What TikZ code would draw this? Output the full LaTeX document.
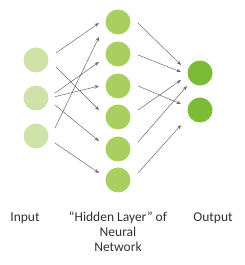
\documentclass[tikz,border=0pt]{standalone}
\usepackage{fontspec}
\setmainfont{Carlito}
\usetikzlibrary{calc,arrows.meta}
\definecolor{incol}{HTML}{CFE3A8}
\definecolor{hidcol}{HTML}{A8CF60}
\definecolor{outcol}{HTML}{7CBB36}
\definecolor{arrcol}{HTML}{6A6A6A}
\begin{document}
\begin{tikzpicture}[x=1pt,y=1pt,
  neuron/.style={circle,minimum size=25pt,inner sep=0pt,draw=none},
  innode/.style={neuron,fill=incol},
  hidnode/.style={neuron,fill=hidcol},
  outnode/.style={neuron,fill=outcol},
  conn/.style={draw=arrcol,line width=0.5pt,-{Stealth[length=4.5pt,width=3.5pt]}},
  lbl/.style={font=\fontsize{13.5}{15}\selectfont,text=black!80,inner sep=0pt}]
\useasboundingbox (0,0) rectangle (245,265);
\node[innode] (i1) at (36,205) {};
\node[innode] (i2) at (36,167) {};
\node[innode] (i3) at (36,129) {};
\node[hidnode] (h1) at (118,243) {};
\node[hidnode] (h2) at (118,211) {};
\node[hidnode] (h3) at (118,179) {};
\node[hidnode] (h4) at (118,148) {};
\node[hidnode] (h5) at (118,116) {};
\node[hidnode] (h6) at (118,85) {};
\node[outnode] (o1) at (200,192) {};
\node[outnode] (o2) at (200,155) {};
% input -> hidden
\draw[conn] ($(i1)+(20,7)$) -- ($(h1)+(-19,-1)$);
\draw[conn] ($(i1)+(20,-7)$) -- ($(h4)+(-19,7)$);
\draw[conn] ($(i2)+(19,5)$) -- ($(h2)+(-19,-8)$);
\draw[conn] ($(i2)+(19,1.3)$) -- ($(h3)+(-19,0)$);
\draw[conn] ($(i2)+(19,-7)$) -- ($(h5)+(-19,8)$);
\draw[conn] ($(i3)+(19,8)$) -- ($(h1)+(-19,-15)$);
\draw[conn] ($(i3)+(19,-7)$) -- ($(h6)+(-19,7)$);
% hidden -> output
\draw[conn] ($(h1)+(20,-1)$) -- ($(o1)+(-19,8)$);
\draw[conn] ($(h2)+(20,-1)$) -- ($(o1)+(-19,1)$);
\draw[conn] ($(h3)+(20,0)$) -- ($(o2)+(-19,6)$);
\draw[conn] ($(h4)+(20,7)$) -- ($(o1)+(-19,-7)$);
\draw[conn] ($(h5)+(20,7)$) -- ($(o1)+(-13,-13)$);
\draw[conn] ($(h6)+(20,7)$) -- ($(o2)+(-19,-15)$);
% labels
\node[lbl,anchor=base] (lin) at (25,43) {Input};
\node[lbl,anchor=base,align=center] (lhid) at (118,13.5) {“Hidden Layer” of\\Neural\\Network};
\node[lbl,anchor=base] (lout) at (213,43) {Output};
\end{tikzpicture}
\end{document}
